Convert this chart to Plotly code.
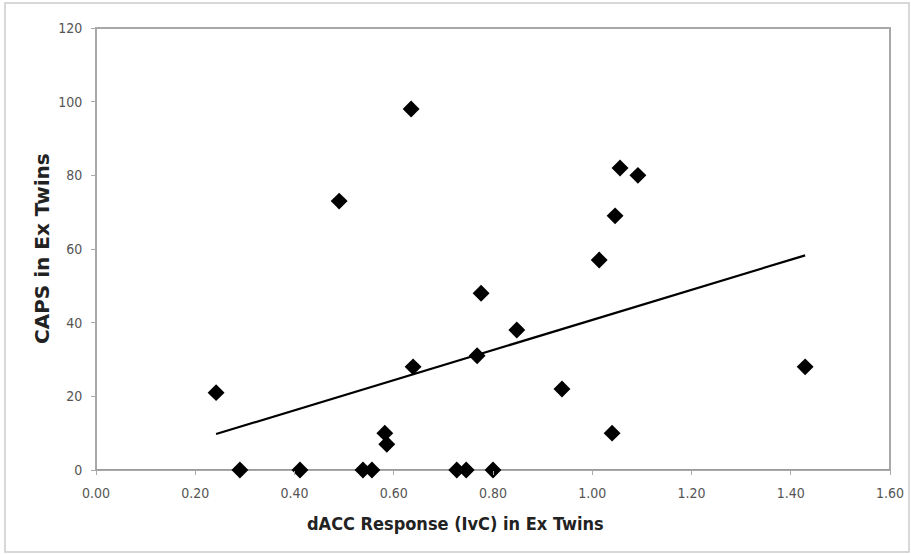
import numpy as np
import plotly.graph_objects as go

dacc = [0.242, 0.29, 0.411, 0.49, 0.538, 0.556, 0.582, 0.586, 0.635, 0.639, 0.727, 0.746,
        0.768, 0.776, 0.80, 0.848, 0.939, 1.014, 1.04, 1.046, 1.056, 1.092, 1.429]
caps = [21, 0, 0, 73, 0, 0, 10, 7, 98, 28, 0, 0,
        31, 48, 0, 38, 22, 57, 10, 69, 82, 80, 28]

x_ticks = [0.0, 0.2, 0.4, 0.6, 0.8, 1.0, 1.2, 1.4, 1.6]
y_ticks = [0, 20, 40, 60, 80, 100, 120]

slope, intercept = np.polyfit(dacc, caps, 1)
xfit = [min(dacc), max(dacc)]
yfit = [slope * v + intercept for v in xfit]

W, H = 911, 554
ml, mr, mt, mb = 96, 21, 28, 84
pw, ph = W - ml - mr, H - mt - mb

fig = go.Figure()
fig.add_trace(go.Scatter(x=dacc, y=caps, mode="markers",
                         marker=dict(symbol="diamond", size=13, color="black"),
                         cliponaxis=False, showlegend=False))
fig.add_trace(go.Scatter(x=xfit, y=yfit, mode="lines",
                         line=dict(color="black", width=2.2), showlegend=False))

tickfont = dict(size=14, color="#555", family="DejaVu Sans Condensed")

fig.update_layout(
    width=W, height=H,
    margin=dict(l=ml, r=mr, t=mt, b=mb),
    paper_bgcolor="white", plot_bgcolor="white",
    font=dict(family="DejaVu Sans", color="#333"),
    xaxis=dict(range=[0, 1.6], tickvals=x_ticks,
               ticktext=[f"{v:.2f}" for v in x_ticks],
               tickfont=tickfont, ticklabelstandoff=6,
               showgrid=False, zeroline=False, showline=False, automargin=False,
               ticks="outside", ticklen=4, tickcolor="#aaa"),
    yaxis=dict(range=[0, 120], tickvals=y_ticks,
               tickfont=tickfont, ticklabelstandoff=6,
               showgrid=False, zeroline=False, showline=False, automargin=False,
               ticks="outside", ticklen=4, tickcolor="#aaa"),
    annotations=[
        dict(text="<b>dACC Response (IvC) in Ex Twins</b>", xref="paper", yref="paper",
             x=(455 - ml) / pw, y=-(523 - mt - ph) / ph, xanchor="center", yanchor="middle",
             showarrow=False,
             font=dict(size=18, color="#222", family="DejaVu Sans Condensed")),
        dict(text="<b>CAPS in Ex Twins</b>", xref="paper", yref="paper",
             x=(42 - ml) / pw, y=(H - mb - 248) / ph, xanchor="center", yanchor="middle",
             textangle=-90, showarrow=False,
             font=dict(size=20, color="#222", family="DejaVu Sans")),
    ],
    shapes=[
        dict(type="rect", xref="paper", yref="paper", x0=0, x1=1, y0=0, y1=1,
             line=dict(color="#a8a8a8", width=2), layer="below"),
        dict(type="line", xref="x", yref="y", x0=0, x1=1.6, y0=0, y1=0,
             line=dict(color="#999", width=1.5), layer="below"),
        dict(type="rect", xref="paper", yref="paper",
             x0=(5 - ml) / pw, x1=(909 - ml) / pw,
             y0=-(552 - mt - ph) / ph, y1=(H - 3 - mb) / ph,
             line=dict(color="#cccccc", width=1.5), layer="below"),
    ],
)

fig.write_html("out.html", config={"displayModeBar": False},
               post_script="document.body.style.margin='0';document.body.style.overflow='hidden';")
